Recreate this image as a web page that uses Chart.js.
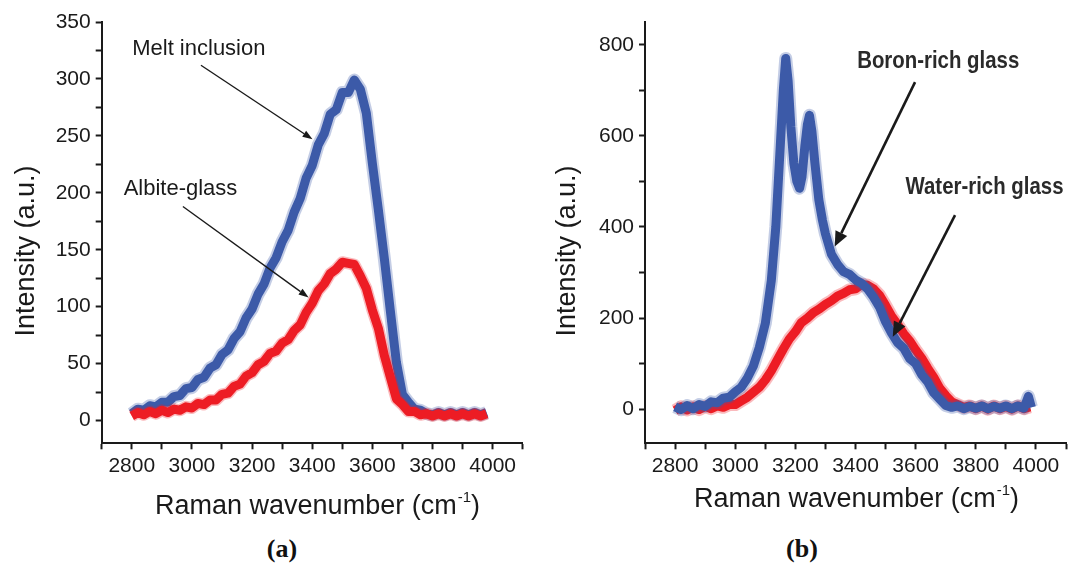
<!DOCTYPE html>
<html>
<head>
<meta charset="utf-8">
<script src="https://cdn.jsdelivr.net/npm/chart.js@4.4.1/dist/chart.umd.min.js"></script>
<style>
html, body { margin: 0; padding: 0; background: #fff; }
#wrap { position: relative; width: 1072px; height: 564px; overflow: hidden; }
canvas { position: absolute; top: 0; }
#ca { left: 0; }
#cb { left: 540px; }
.tag { position: absolute; top: 534px; line-height: 30px; font: bold 26px "Liberation Serif", "Times New Roman", serif; color: #111; transform: translateX(-50%); }
</style>
</head>
<body>
<div id="wrap">
  <canvas id="ca" width="540" height="530"></canvas>
  <canvas id="cb" width="532" height="530"></canvas>
  <div class="tag" style="left:282px">(a)</div>
  <div class="tag" style="left:802px">(b)</div>
</div>
<script>
// ---- data ----
const wavenumber = [
  2800, 2820, 2840, 2860, 2880, 2900, 2920, 2940, 2960, 2980,
  3000, 3020, 3040, 3060, 3080, 3100, 3120, 3140, 3160, 3180,
  3200, 3220, 3240, 3260, 3280, 3300, 3320, 3340, 3360, 3380,
  3400, 3420, 3440, 3460, 3480, 3500, 3520, 3540, 3560, 3580,
  3600, 3620, 3640, 3660, 3680, 3700, 3720, 3740, 3760, 3780,
  3800, 3820, 3840, 3860, 3880, 3900, 3920, 3940, 3960, 3980
];

// (a) melt inclusion (blue) and albite glass (red)
const meltInclusion = [
  6, 10, 9, 13, 12, 16, 16, 21, 22, 28,
  29, 36, 38, 46, 49, 58, 62, 72, 78, 90,
  98, 111, 120, 134, 143, 157, 167, 183, 195, 213,
  224, 242, 252, 269, 273, 288, 288, 299, 291, 270,
  226, 185, 142, 96, 51, 23, 16, 10, 9, 6,
  5, 7, 5, 7, 5, 7, 5, 7, 5, 7
];
const albiteGlass = [
  4, 7, 5, 8, 6, 9, 7, 10, 9, 12,
  11, 15, 14, 18, 18, 23, 24, 30, 32, 39,
  42, 49, 52, 59, 61, 68, 71, 79, 84, 95,
  103, 114, 120, 129, 133, 139, 138, 137, 127, 116,
  97, 81, 57, 38, 19, 14, 8, 8, 5, 6,
  4, 6, 4, 6, 4, 6, 4, 6, 4, 6
];

// (b) boron-rich glass (blue) has its own finer x grid around the two peaks
const boronWavenumber = [
  2800, 2820, 2840, 2860, 2880, 2900, 2920, 2940, 2960, 2980,
  3000, 3020, 3040, 3060, 3080, 3100, 3120, 3135, 3150, 3160,
  3168, 3176, 3185, 3195, 3205, 3214, 3222, 3232, 3240, 3247,
  3255, 3265, 3278, 3290, 3300, 3320, 3340, 3360, 3380, 3400,
  3420, 3440, 3460, 3480, 3500, 3520, 3540, 3560, 3580, 3600,
  3620, 3640, 3660, 3680, 3700, 3720, 3740, 3760, 3780, 3800,
  3820, 3840, 3860, 3880, 3900, 3920, 3940, 3960, 3975, 3985
];
const boronRich = [
  5, -1, 8, 1, 10, 6, 16, 14, 24, 26,
  38, 48, 68, 94, 135, 188, 282, 400, 580, 700,
  770, 720, 620, 540, 500, 485, 510, 580, 625, 645,
  610, 540, 460, 415, 385, 340, 318, 302, 296, 284,
  276, 264, 246, 224, 192, 167, 146, 134, 111, 100,
  76, 60, 36, 22, 8, 4, 7, 1, 6, 2,
  7, 1, 6, 2, 7, 1, 7, 2, 28, 4
];
const waterRich = [
  -3, 5, -2, 5, -1, 6, 1, 7, 4, 10,
  10, 18, 26, 37, 48, 64, 84, 108, 132, 154,
  170, 190, 200, 212, 220, 230, 238, 248, 254, 262,
  264, 274, 272, 264, 250, 228, 204, 186, 166, 150,
  130, 112, 90, 70, 46, 30, 16, 10, 4, 7,
  1, 7, 0, 7, 1, 6, 0, 7, 1, 5
];

// tick positions (major ones get labels)
const xTicks = [2700, 2800, 2900, 3000, 3100, 3200, 3300, 3400, 3500, 3600, 3700, 3800, 3900, 4000, 4100];
const yTicksA = [0, 25, 50, 75, 100, 125, 150, 175, 200, 225, 250, 275, 300, 325, 350];
const yTicksB = [0, 100, 200, 300, 400, 500, 600, 700, 800];

const BLUE = "#3c5aa8";
const RED = "#ed1c24";
const BLUE_FUZZ = "rgba(60,90,168,0.3)";
const RED_FUZZ = "rgba(237,28,36,0.3)";
const INK = "#1a1a1a";
const SANS = '"Liberation Sans", Arial, sans-serif';

// annotation labels + arrows, in data coordinates
const notesA = [
  { text: "Melt inclusion", x: 3023, y: 326, from: [3030, 312], to: [3401, 247] },
  { text: "Albite-glass", x: 2962, y: 203, from: [2970, 188], to: [3388, 108] }
];
const notesB = [
  { text: "Boron-rich glass", x: 3675, y: 763, from: [3598, 718], to: [3331, 357] },
  { text: "Water-rich glass", x: 3829, y: 487, from: [3731, 426], to: [3524, 159] }
];

function pts(xs, ys) {
  return xs.map((x, i) => ({ x: x, y: ys[i] }));
}

function drawArrow(ctx, x1, y1, x2, y2, lw, head, half) {
  const a = Math.atan2(y2 - y1, x2 - x1);
  const bx = x2 - head * Math.cos(a), by = y2 - head * Math.sin(a);
  ctx.lineWidth = lw;
  ctx.beginPath(); ctx.moveTo(x1, y1); ctx.lineTo(bx, by); ctx.stroke();
  ctx.beginPath();
  ctx.moveTo(x2, y2);
  ctx.lineTo(bx + half * Math.sin(a), by - half * Math.cos(a));
  ctx.lineTo(bx - half * Math.sin(a), by + half * Math.cos(a));
  ctx.closePath(); ctx.fill();
}

// axis titles, labels and arrows
function notesPlugin(notes, look) {
  return {
    id: "notes",
    afterDraw(chart) {
      const ctx = chart.ctx, sx = chart.scales.x, sy = chart.scales.y;
      ctx.save();
      ctx.fillStyle = INK; ctx.strokeStyle = INK;

      notes.forEach(n => {
        ctx.save();
        ctx.font = look.font;
        ctx.fillStyle = look.color;
        ctx.textAlign = "center"; ctx.textBaseline = "middle";
        ctx.translate(sx.getPixelForValue(n.x), sy.getPixelForValue(n.y));
        ctx.scale(look.squeeze, 1);
        ctx.fillText(n.text, 0, 0);
        ctx.restore();
        drawArrow(ctx,
          sx.getPixelForValue(n.from[0]), sy.getPixelForValue(n.from[1]),
          sx.getPixelForValue(n.to[0]), sy.getPixelForValue(n.to[1]),
          look.lw, look.head, look.half);
      });

      // x title with superscript
      ctx.textAlign = "left"; ctx.textBaseline = "alphabetic";
      const main = "Raman wavenumber (cm", sup = "-1", close = ")";
      ctx.font = "27px " + SANS;
      const wMain = ctx.measureText(main).width, wClose = ctx.measureText(close).width;
      ctx.font = "15px " + SANS;
      const wSup = ctx.measureText(sup).width;
      let x0 = look.xTitle[0] - (wMain + wSup + wClose) / 2;
      const base = look.xTitle[1];
      ctx.font = "27px " + SANS;
      ctx.fillText(main, x0, base);
      ctx.font = "15px " + SANS;
      ctx.fillText(sup, x0 + wMain + 1, base - 12);
      ctx.font = "27px " + SANS;
      ctx.fillText(close, x0 + wMain + wSup + 1, base);

      // y title
      ctx.translate(look.yTitle[0], look.yTitle[1]);
      ctx.rotate(-Math.PI / 2);
      ctx.textAlign = "center"; ctx.textBaseline = "middle";
      ctx.font = "27px " + SANS;
      ctx.fillText("Intensity (a.u.)", 0, 0);
      ctx.restore();
    }
  };
}

function axisX() {
  return {
    type: "linear", min: 2700, max: 4100,
    afterBuildTicks: axis => { axis.ticks = xTicks.map(v => ({ value: v })); },
    afterFit: axis => { axis.height = 86.7; },
    ticks: {
      autoSkip: false, maxRotation: 0, padding: 4, color: INK,
      font: { family: SANS, size: 21 },
      callback: v => (v % 200 === 0 && v >= 2800 && v <= 4000) ? String(v) : ""
    },
    grid: { drawOnChartArea: false, tickLength: 6, tickWidth: 2, tickColor: INK },
    border: { color: INK, width: 2 }
  };
}

function axisY(min, max, list, step, width) {
  return {
    type: "linear", min: min, max: max,
    afterBuildTicks: axis => { axis.ticks = list.map(v => ({ value: v })); },
    afterFit: axis => { axis.width = width; },
    ticks: {
      autoSkip: false, padding: 5, color: INK,
      font: { family: SANS, size: 21 },
      callback: v => (v % step === 0) ? String(v) : ""
    },
    grid: { drawOnChartArea: false, tickLength: 6, tickWidth: 2, tickColor: INK },
    border: { color: INK, width: 2 }
  };
}

// each spectrum = solid core + a slightly wider translucent fringe for the noise band
function spectrum(label, data, color, fuzz, core, fringe) {
  return [
    { label: label, data: data, borderColor: color, borderWidth: core,
      pointRadius: 0, tension: 0, borderJoinStyle: "round", fill: false },
    { label: label + " (noise)", data: data, borderColor: fuzz, borderWidth: fringe,
      pointRadius: 0, tension: 0, borderJoinStyle: "round", fill: false }
  ];
}

const common = {
  responsive: false, animation: false,
  plugins: { legend: { display: false }, tooltip: { enabled: false } }
};

// ================= (a) =================
// datasets listed first are drawn on top
new Chart(document.getElementById("ca"), {
  type: "line",
  data: {
    datasets: [
      ...spectrum("Albite-glass", pts(wavenumber, albiteGlass), RED, RED_FUZZ, 9, 12),
      ...spectrum("Melt inclusion", pts(wavenumber, meltInclusion), BLUE, BLUE_FUZZ, 9, 13)
    ]
  },
  options: Object.assign({}, common, {
    layout: { padding: { top: 22, right: 17.3, bottom: 0, left: 0 } },
    scales: { x: axisX(), y: axisY(-20, 350, yTicksA, 50, 101.7) }
  }),
  plugins: [notesPlugin(notesA, {
    font: "22px " + SANS, color: INK, squeeze: 1, lw: 1.4, head: 10, half: 3.5,
    xTitle: [317, 514], yTitle: [27, 251]
  })]
});

// ================= (b) =================
new Chart(document.getElementById("cb"), {
  type: "line",
  data: {
    datasets: [
      ...spectrum("Boron-rich glass", pts(boronWavenumber, boronRich), BLUE, BLUE_FUZZ, 9, 13),
      ...spectrum("Water-rich glass", pts(wavenumber, waterRich), RED, RED_FUZZ, 9, 13)
    ]
  },
  options: Object.assign({}, common, {
    layout: { padding: { top: 22, right: 6, bottom: 0, left: 0 } },
    scales: { x: axisX(), y: axisY(-75, 850, yTicksB, 200, 105) }
  }),
  plugins: [notesPlugin(notesB, {
    font: "bold 24px " + SANS, color: "#2a2a2a", squeeze: 0.85, lw: 2.6, head: 15, half: 6.5,
    xTitle: [316, 507], yTitle: [28, 251]
  })]
});
</script>
</body>
</html>
